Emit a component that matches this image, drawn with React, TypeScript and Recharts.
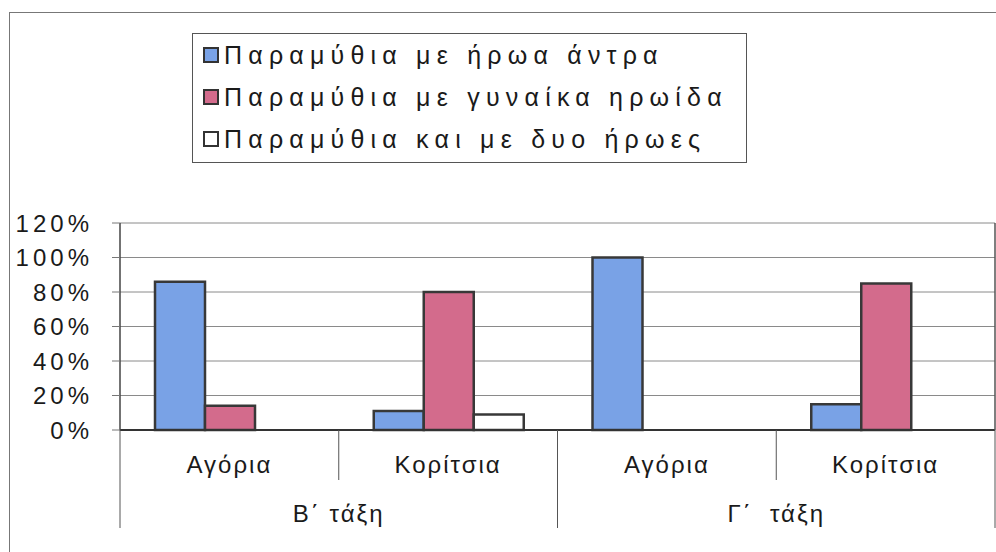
import React from 'react';
import { BarChart, Bar, XAxis, YAxis, CartesianGrid, Legend } from 'recharts';

const categories = ['Αγόρια', 'Κορίτσια', 'Αγόρια', 'Κορίτσια'];
const classes = ['Β΄ τάξη', 'Β΄ τάξη', 'Γ΄  τάξη', 'Γ΄  τάξη'];
const maleHero = [86, 11, 100, 15];
const femaleHero = [14, 80, 0, 85];
const bothHeroes = [0, 9, 0, 0];
const yTicks = [0, 20, 40, 60, 80, 100, 120];
const seriesKeys = ['male', 'female', 'both'];
const seriesNames = [
  'Παραμύθια με ήρωα άντρα',
  'Παραμύθια με γυναίκα ηρωίδα',
  'Παραμύθια και με δυο ήρωες',
];
const seriesColors = ['#79a2e6', '#d36b8c', '#ffffff'];

const data = categories.map((c, i) => ({
  gender: c,
  klass: classes[i],
  male: maleHero[i],
  female: femaleHero[i],
  both: bothHeroes[i],
}));

const CHART_W = 996;
const CHART_H = 552;
const Y_AXIS_W = 120;
const RIGHT_AXIS_W = 1;
const MARGIN = { top: 223, right: 0, bottom: 0, left: 0 };
const X_AXIS_H = 122;
const BAND = (CHART_W - Y_AXIS_W - RIGHT_AXIS_W - MARGIN.left - MARGIN.right) / categories.length;
const FONT = '"Liberation Sans", Arial, sans-serif';
const TEXT = '#1a1a1a';
const LINE = '#555';

const YTick = (props: any) => {
  const { x, y, payload } = props;
  return (
    <text x={x} y={y} dy="0.355em" textAnchor="end" fontSize={24} fill={TEXT} fontFamily={FONT} style={{ letterSpacing: 4 }}>
      {payload.value}%
    </text>
  );
};

const XTick = (props: any) => {
  const { x, y, index, payload } = props;
  const half = BAND / 2;
  const isGroupStart = index === 0 || classes[index] !== classes[index - 1];
  const isGroupEnd = index === categories.length - 1 || classes[index] !== classes[index + 1];
  let count = 0;
  if (isGroupStart) {
    let j = index;
    while (j < classes.length && classes[j] === classes[index]) {
      count++;
      j++;
    }
  }
  const groupCenter = x - half + (count * BAND) / 2;
  return (
    <g>
      <text x={x} y={y + 43} textAnchor="middle" fontSize={24} fill={TEXT} fontFamily={FONT} style={{ letterSpacing: 2 }}>
        {payload.value}
      </text>
      {!isGroupEnd && <line x1={x + half} x2={x + half} y1={y} y2={y + 50} stroke={LINE} strokeWidth={1} />}
      {isGroupStart && <line x1={x - half} x2={x - half} y1={y} y2={y + 98} stroke={LINE} strokeWidth={1} />}
      {isGroupEnd && <line x1={x + half} x2={x + half} y1={y} y2={y + 98} stroke={LINE} strokeWidth={1} />}
      {isGroupStart && (
        <text x={groupCenter} y={y + 92} textAnchor="middle" fontSize={24} fill={TEXT} fontFamily={FONT} style={{ letterSpacing: 2, whiteSpace: 'pre' }}>
          {classes[index]}
        </text>
      )}
    </g>
  );
};

const LegendBox = () => (
  <div
    style={{
      width: '100%',
      height: '100%',
      boxSizing: 'border-box',
      border: '1.5px solid #555',
      background: '#fff',
      fontFamily: FONT,
    }}
  >
    {seriesNames.map((n, i) => (
      <div key={n} style={{ height: 42, display: 'flex', alignItems: 'center' }}>
        <div
          style={{
            width: 16,
            height: 16,
            marginLeft: 10,
            marginRight: 5,
            boxSizing: 'border-box',
            border: '2px solid #333',
            background: seriesColors[i],
          }}
        />
        <span style={{ fontSize: 25, letterSpacing: 6.2, color: TEXT, lineHeight: 1, whiteSpace: 'nowrap' }}>{n}</span>
      </div>
    ))}
  </div>
);

export default function App() {
  return (
    <div style={{ position: 'absolute', left: 0, top: 0, width: CHART_W, height: CHART_H, background: '#fff', overflow: 'hidden' }}>
      <div
        style={{
          position: 'absolute',
          left: 9,
          top: 12,
          right: -2,
          bottom: -2,
          borderTop: '1.5px solid #777',
          borderLeft: '1.5px solid #777',
        }}
      />
      <div style={{ position: 'absolute', left: 0, top: 0 }}>
        <BarChart width={CHART_W} height={CHART_H} data={data} margin={MARGIN} barCategoryGap="16%" barGap={0}>
          <CartesianGrid vertical={false} stroke="#8a8a8a" strokeWidth={1} />
          <XAxis
            dataKey="gender"
            height={X_AXIS_H}
            tickLine={false}
            tickSize={0}
            tickMargin={0}
            interval={0}
            axisLine={{ stroke: '#333', strokeWidth: 2 }}
            tick={<XTick />}
          />
          <YAxis
            width={Y_AXIS_W}
            domain={[0, 120]}
            ticks={yTicks}
            interval={0}
            tickSize={8}
            tickMargin={19}
            tickLine={{ stroke: '#777' }}
            axisLine={{ stroke: '#444', strokeWidth: 1.5 }}
            tick={<YTick />}
          />
          <YAxis
            yAxisId="right"
            orientation="right"
            width={RIGHT_AXIS_W}
            domain={[0, 120]}
            tick={false}
            tickLine={false}
            axisLine={{ stroke: LINE, strokeWidth: 1.5 }}
          />
          <Legend
            layout="vertical"
            align="center"
            verticalAlign="middle"
            wrapperStyle={{ position: 'absolute', left: 192, top: 33, width: 555, height: 130 }}
            content={<LegendBox />}
          />
          {seriesKeys.map((k, i) => (
            <Bar
              key={k}
              dataKey={k}
              name={seriesNames[i]}
              fill={seriesColors[i]}
              stroke="#383838"
              strokeWidth={2.5}
              isAnimationActive={false}
            />
          ))}
        </BarChart>
      </div>
    </div>
  );
}
